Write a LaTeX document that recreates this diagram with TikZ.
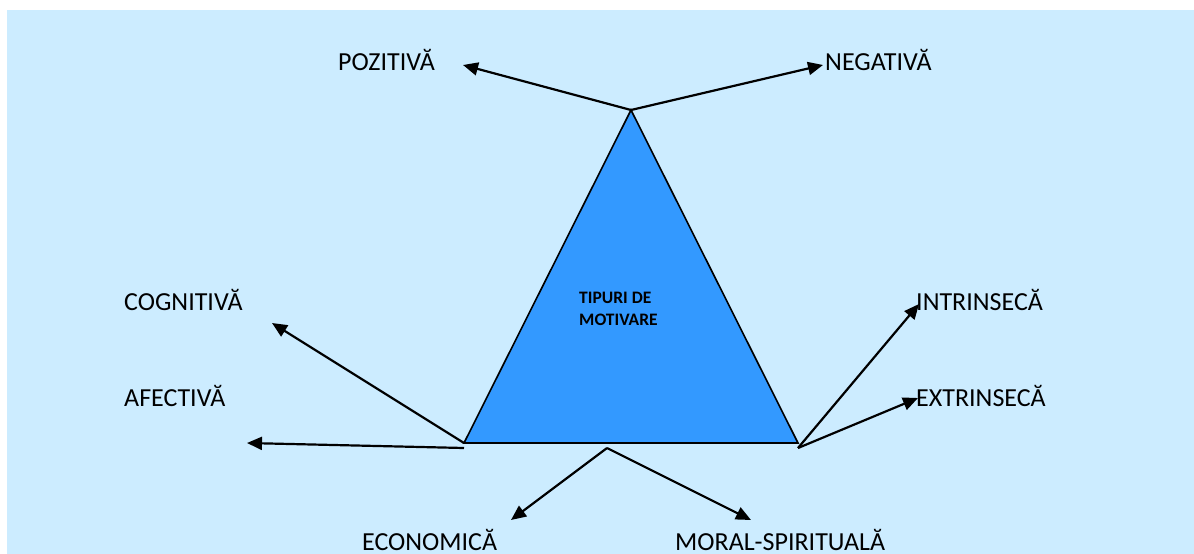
\documentclass[tikz,border=0pt]{standalone}
\usepackage{fontspec}
\setmainfont{Carlito}
\usetikzlibrary{arrows.meta}
\definecolor{bgblue}{RGB}{204,236,255}
\definecolor{triblue}{RGB}{51,153,255}
\begin{document}
\begin{tikzpicture}[x=1pt,y=-1pt,
  label/.style={anchor=base west,inner sep=0pt,font=\fontsize{26}{31}\selectfont},
  title/.style={anchor=base west,inner sep=0pt,align=left,font=\fontsize{17.5}{22}\selectfont\bfseries},
  ray/.style={line width=2.2pt,-{Triangle[length=15pt,width=13pt]}}]
  \useasboundingbox (0,0) rectangle (1194,554);
  \fill[bgblue] (7,10) rectangle (1194,554);

  % triangle corners
  \coordinate (apex) at (631,110);
  \coordinate (bl) at (464,443);
  \coordinate (br) at (798,443);
  \fill[triblue,draw=black,line width=1.6pt,line join=miter] (apex) -- (bl) -- (br) -- cycle;
  % the base anchor of a two-line node sits on its last line
  \node[title] (tip) at (579,325) {TIPURI DE\\MOTIVARE};

  % arrow origins below the base
  \coordinate (blo) at (464,448);
  \coordinate (bro) at (798,448);
  \coordinate (bm) at (607,448);

  % arrow tips
  \coordinate (tpoz) at (463,65);
  \coordinate (tneg) at (823,65);
  \coordinate (tcog) at (272,323);
  \coordinate (tafe) at (247,443);
  \coordinate (tint) at (919,304);
  \coordinate (text) at (918,398);
  \coordinate (teco) at (511,520);
  \coordinate (tmor) at (751,520);

  % labels
  \node[label] (poz) at (338,70) {POZITIVĂ};
  \node[label] (neg) at (825,70) {NEGATIVĂ};
  \node[label] (cog) at (124,310) {COGNITIVĂ};
  \node[label] (afe) at (124,406) {AFECTIVĂ};
  \node[label] (int) at (916,310) {INTRINSECĂ};
  \node[label] (ext) at (916,406) {EXTRINSECĂ};
  \node[label] (eco) at (362,550) {ECONOMICĂ};
  \node[label] (mor) at (675,550) {MORAL-SPIRITUALĂ};

  % arrows
  \draw[ray] (apex) -- (tpoz);
  \draw[ray] (apex) -- (tneg);
  \draw[ray] (bl) -- (tcog);
  \draw[ray] (blo) -- (tafe);
  \draw[ray] (bro) -- (tint);
  \draw[ray] (bro) -- (text);
  \draw[ray] (bm) -- (teco);
  \draw[ray] (bm) -- (tmor);
\end{tikzpicture}
\end{document}
